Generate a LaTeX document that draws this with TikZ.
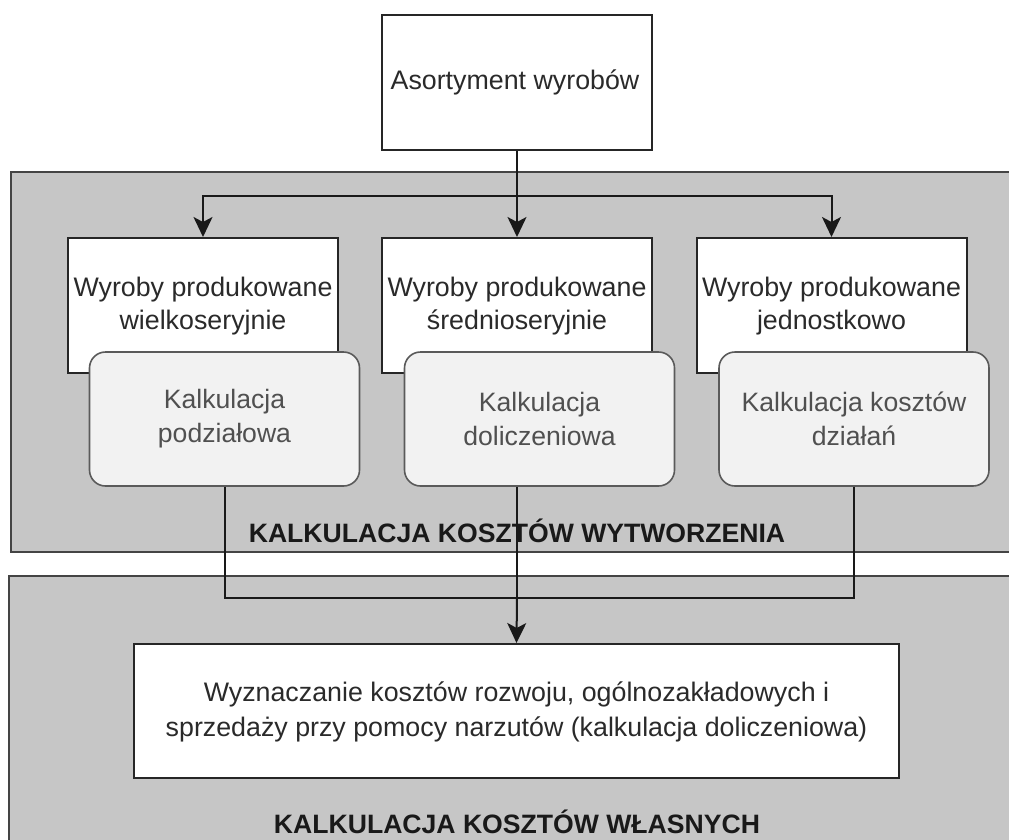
\documentclass[tikz,border=0pt]{standalone}
\usepackage{fontspec}
\setmainfont{Liberation Sans}
\usetikzlibrary{arrows.meta}
\definecolor{bggray}{HTML}{C6C6C6}
\definecolor{edgegray}{HTML}{444444}
\definecolor{softfill}{HTML}{F2F2F2}
\definecolor{softedge}{HTML}{5A5A5A}
\definecolor{softtext}{HTML}{505050}
\definecolor{boxtext}{HTML}{2A2A2A}
\tikzset{
  region/.style={fill=bggray, draw=edgegray, line width=1.6pt},
  whitebox/.style={draw=black!85, fill=white, line width=2pt, minimum width=270pt, minimum height=135pt, inner sep=0pt},
  softbox/.style={draw=softedge, fill=softfill, line width=1.6pt, rounded corners=16pt, minimum width=270pt, minimum height=134pt, inner sep=0pt, align=center, text=softtext, font=\fontsize{26.6}{34}\selectfont},
  boxlabel/.style={align=center, text=boxtext, font=\fontsize{26.8}{33}\selectfont},
  regionlabel/.style={font=\fontsize{26.6}{30}\selectfont\bfseries, text=black!90},
  conn/.style={draw=black!90, line width=2pt},
  arr/.style={conn, -{Stealth[length=20pt,width=19pt,inset=5pt]}}
}
\begin{document}
\begin{tikzpicture}[x=1pt,y=-1pt]
\useasboundingbox (0,0) rectangle (1009,839);
\fill[white] (0,0) rectangle (1009,839);
% regions
\draw[region] (11,172) rectangle (1014,552);
\draw[region] (9,576) rectangle (1014,845);
% top box
\node[whitebox, minimum width=270pt, minimum height=135pt] (top) at (517,82.5) {};
\node[boxlabel] (toplabel) at (515,82) {Asortyment wyrobów};
% white boxes
\node[whitebox] (w1) at (203,305.5) {};
\node[whitebox] (w2) at (517,305.5) {};
\node[whitebox] (w3) at (831.5,305.5) {};
\node[boxlabel] (w1l) at (203,306) {Wyroby produkowane\\wielkoseryjnie};
\node[boxlabel] (w2l) at (517,306) {Wyroby produkowane\\średnioseryjnie};
\node[boxlabel] (w3l) at (831.5,306) {Wyroby produkowane\\jednostkowo};
% soft boxes
\node[softbox] (k1) at (224.5,419) {Kalkulacja\\podziałowa};
\node[softbox] (k2) at (539.5,419) {Kalkulacja\\doliczeniowa};
\node[softbox] (k3) at (854,419) {Kalkulacja kosztów\\działań};
% region labels
\node[regionlabel] (r1) at (517,531) {KALKULACJA KOSZTÓW WYTWORZENIA};
\node[regionlabel] (r2) at (517,822) {KALKULACJA KOSZTÓW WŁASNYCH};
% bottom box
\node[whitebox, minimum width=765pt, minimum height=134pt] (bot) at (516.5,711) {};
\node[boxlabel, font=\fontsize{26.8}{35}\selectfont] (botl) at (516.5,712) {Wyznaczanie kosztów rozwoju, ogólnozakładowych i\\sprzedaży przy pomocy narzutów (kalkulacja doliczeniowa)};
% connectors top
\coordinate (split) at (517,196);
\draw[conn] (top.south) -- (split);
\draw[arr] (split) -| (w1.north);
\draw[arr] (split) -- (w2.north);
\draw[arr] (split) -| (w3.north);
% connectors bottom
\coordinate (join) at (517,598);
\draw[conn] (k1.south) |- (join);
\draw[conn] (k3.south) |- (join);
\draw[conn] (k2.south -| join) -- (join);
\draw[arr] (join) -- (bot.north);
\end{tikzpicture}
\end{document}
